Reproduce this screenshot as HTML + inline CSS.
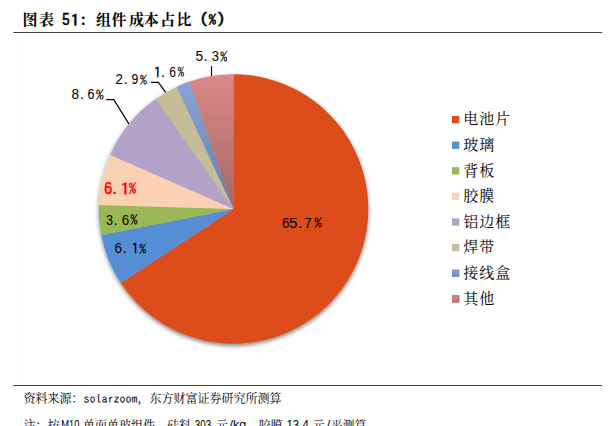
<!DOCTYPE html>
<html><head><meta charset="utf-8">
<style>
html,body{margin:0;padding:0;background:#fff;}
body{width:615px;height:426px;overflow:hidden;position:relative;}
svg{position:absolute;left:0;top:0;}
.tc{font-family:"Liberation Serif","Noto Serif CJK SC",serif;font-weight:bold;font-size:15px;fill:#000;}
.tl{font-family:"Liberation Sans",sans-serif;font-weight:bold;fill:#000;}
.lg{font-family:"Liberation Serif","Noto Serif CJK SC",serif;font-size:15px;letter-spacing:1px;fill:#000;}
.lb{font-family:"Liberation Sans",sans-serif;fill:#000;}
.lbr{font-family:"Liberation Sans",sans-serif;fill:#FF0000;font-weight:bold;}
.src{font-family:"Liberation Serif","Noto Serif CJK SC",serif;font-size:12px;fill:#000;}
.srcl{font-family:"IPAGothic","Liberation Mono",monospace;font-size:12px;fill:#000;}
.srcs{font-family:"Liberation Sans",sans-serif;font-size:12.5px;fill:#000;}
</style></head>
<body>
<svg width="615" height="426" viewBox="0 0 615 426">
<defs>
<linearGradient id="gP" gradientUnits="userSpaceOnUse" x1="0" y1="74" x2="0" y2="209"><stop offset="0" stop-color="#DB8989"/><stop offset="1" stop-color="#A36767"/></linearGradient>
<linearGradient id="gB" gradientUnits="userSpaceOnUse" x1="0" y1="82" x2="0" y2="209"><stop offset="0" stop-color="#89A4D6"/><stop offset="1" stop-color="#647EA5"/></linearGradient>
<linearGradient id="lP" x1="0" y1="0" x2="0" y2="1"><stop offset="0" stop-color="#D88585"/><stop offset="1" stop-color="#C07070"/></linearGradient>
<linearGradient id="lB" x1="0" y1="0" x2="0" y2="1"><stop offset="0" stop-color="#86A2D6"/><stop offset="1" stop-color="#7090C8"/></linearGradient>
<filter id="sh" x="-10%" y="-10%" width="120%" height="125%">
<feGaussianBlur in="SourceAlpha" stdDeviation="2.2"/>
<feOffset dx="0.0" dy="2.1" result="b"/>
<feComponentTransfer><feFuncA type="linear" slope="0.5"/></feComponentTransfer>
<feMerge><feMergeNode/><feMergeNode in="SourceGraphic"/></feMerge>
</filter>
</defs>
<text class="tc" x="22.4" y="24.7">图</text>
<text class="tc" x="39.1" y="24.7">表</text>
<text class="tc" x="96.1" y="24.7">组</text>
<text class="tc" x="111.6" y="24.7">件</text>
<text class="tc" x="128.9" y="24.7">成</text>
<text class="tc" x="143.75" y="24.7">本</text>
<text class="tc" x="160.2" y="24.7">占</text>
<text class="tc" x="176.6" y="24.7">比</text>
<text class="tc" x="79.15" y="24.7">：</text>
<text class="tl" style="font-size:15.0px;font-weight:normal;stroke:#000;stroke-width:0.55px" transform="translate(62.32,25.29) scale(0.886,1.061)">5</text>
<text class="tl" style="font-size:15.0px;font-family:IPAGothic,sans-serif;font-weight:normal;stroke:#000;stroke-width:0.5px" transform="translate(70.49,26.26) scale(1.215,1.057)">1</text>
<text class="tl" style="font-size:15.0px;font-weight:normal;stroke:#000;stroke-width:0.45px" transform="translate(200.80,23.03) scale(1.232,0.973)">(</text>
<text class="tl" style="font-size:15.0px;font-family:IPAGothic,sans-serif;font-weight:normal;stroke:#000;stroke-width:0.45px" transform="translate(208.56,24.11) scale(1.027,0.826)">%</text>
<text class="tl" style="font-size:15.0px;font-weight:normal;stroke:#000;stroke-width:0.45px" transform="translate(218.04,23.03) scale(1.232,0.973)">)</text>
<rect x="13.3" y="32" width="589" height="1" fill="#404040"/>
<rect x="21.5" y="35" width="1" height="348" fill="#fafafa"/>
<g filter="url(#sh)">
<path fill="#DD4E1F" d="M233.5,209.0 L233.50,74.20 A134.8,134.8 0 1 1 120.76,282.90 Z"/>
<path fill="#558ED5" d="M233.5,209.0 L120.76,282.90 A134.8,134.8 0 0 1 101.30,235.32 Z"/>
<path fill="#9AB855" d="M233.5,209.0 L101.30,235.32 A134.8,134.8 0 0 1 98.76,204.97 Z"/>
<path fill="#FAD2B3" d="M233.5,209.0 L98.76,204.97 A134.8,134.8 0 0 1 110.06,154.83 Z"/>
<path fill="#B3A2C7" d="M233.5,209.0 L110.06,154.83 A134.8,134.8 0 0 1 155.58,99.01 Z"/>
<path fill="#C4BD97" d="M233.5,209.0 L155.58,99.01 A134.8,134.8 0 0 1 176.82,86.70 Z"/>
<path fill="url(#gB)" d="M233.5,209.0 L176.82,86.70 A134.8,134.8 0 0 1 189.39,81.62 Z"/>
<path fill="url(#gP)" d="M233.5,209.0 L189.39,81.62 A134.8,134.8 0 0 1 233.50,74.20 Z"/>
</g>
<g stroke="#000" stroke-width="1.2" fill="none">
<path d="M211.5,66 L211.5,76" stroke-width="1.1"/>
<path d="M151.1,82.3 L158.4,82.3 L165.7,92.4"/>
<path d="M106.2,99.6 L113.8,99.6 L128.9,123.9"/>
</g>
<text class="lb" style="font-size:15.0px" transform="translate(195.40,61.30) scale(0.914,1.022)">5</text>
<text class="lb" style="font-size:15.5px" x="203.48" y="61.30">.</text>
<text class="lb" style="font-size:15.0px" transform="translate(211.85,61.30) scale(0.872,1.008)">3</text>
<text class="lb" style="font-size:15.0px;font-family:IPAGothic,sans-serif" transform="translate(219.97,60.64) scale(0.984,0.796)">%</text>
<text class="lb" style="font-size:15.0px;font-family:IPAGothic,sans-serif" transform="translate(153.14,77.90) scale(1.139,0.990)">1</text>
<text class="lb" style="font-size:15.5px" x="160.78" y="77.00">.</text>
<text class="lb" style="font-size:15.0px" transform="translate(169.33,77.01) scale(0.809,0.979)">6</text>
<text class="lb" style="font-size:15.0px;font-family:IPAGothic,sans-serif" transform="translate(177.49,76.36) scale(0.897,0.774)">%</text>
<text class="lb" style="font-size:15.0px" transform="translate(115.48,84.45) scale(0.893,0.983)">2</text>
<text class="lb" style="font-size:15.5px" x="123.48" y="84.30">.</text>
<text class="lb" style="font-size:15.0px" transform="translate(131.38,84.31) scale(0.808,0.970)">9</text>
<text class="lb" style="font-size:15.0px;font-family:IPAGothic,sans-serif" transform="translate(139.87,83.67) scale(0.984,0.766)">%</text>
<text class="lb" style="font-size:15.0px" transform="translate(71.46,99.21) scale(0.909,0.989)">8</text>
<text class="lb" style="font-size:15.5px" x="79.78" y="99.20">.</text>
<text class="lb" style="font-size:15.0px" transform="translate(87.41,99.21) scale(0.838,0.989)">6</text>
<text class="lb" style="font-size:15.0px;font-family:IPAGothic,sans-serif" transform="translate(95.84,98.55) scale(1.085,0.781)">%</text>
<text class="lbr" style="font-size:15.0px;font-weight:normal;stroke:#f00;stroke-width:0.6px" transform="translate(104.23,193.79) scale(0.939,1.073)">6</text>
<text class="lbr" style="font-size:15.5px" x="112.45" y="193.80">.</text>
<text class="lbr" style="font-size:15.0px;font-family:IPAGothic,sans-serif;font-weight:normal;stroke:#f00;stroke-width:0.4px" transform="translate(120.44,194.78) scale(1.248,1.085)">1</text>
<text class="lbr" style="font-size:15.0px;font-family:IPAGothic,sans-serif;font-weight:normal;stroke:#f00;stroke-width:0.35px" transform="translate(128.86,193.09) scale(0.998,0.848)">%</text>
<text class="lb" style="font-size:15.0px" transform="translate(105.97,224.60) scale(0.844,1.017)">3</text>
<text class="lb" style="font-size:15.5px" x="113.48" y="224.60">.</text>
<text class="lb" style="font-size:15.0px" transform="translate(121.67,224.60) scale(0.896,1.017)">6</text>
<text class="lb" style="font-size:15.0px;font-family:IPAGothic,sans-serif" transform="translate(130.26,223.93) scale(0.998,0.804)">%</text>
<text class="lb" style="font-size:15.0px" transform="translate(114.57,253.41) scale(0.896,0.979)">6</text>
<text class="lb" style="font-size:15.5px" x="122.48" y="253.40">.</text>
<text class="lb" style="font-size:15.0px;font-family:IPAGothic,sans-serif" transform="translate(130.94,254.30) scale(1.139,0.990)">1</text>
<text class="lb" style="font-size:15.0px;font-family:IPAGothic,sans-serif" transform="translate(139.28,252.76) scale(0.940,0.774)">%</text>
<text class="lb" style="font-size:15.0px" transform="translate(281.97,228.01) scale(0.896,0.989)">6</text>
<text class="lb" style="font-size:15.0px" transform="translate(288.94,228.00) scale(1.012,1.003)">5</text>
<text class="lb" style="font-size:15.5px" x="297.88" y="228.00">.</text>
<text class="lb" style="font-size:15.0px" transform="translate(304.25,228.15) scale(0.909,1.017)">7</text>
<text class="lb" style="font-size:15.0px;font-family:IPAGothic,sans-serif" transform="translate(314.04,227.35) scale(1.070,0.781)">%</text>
<rect x="452" y="116.0" width="7.3" height="7.3" fill="#DD4E1F"/>
<text class="lg" x="463.3" y="124.3">电池片</text>
<rect x="452" y="141.6" width="7.3" height="7.3" fill="#558ED5"/>
<text class="lg" x="463.3" y="149.9">玻璃</text>
<rect x="452" y="167.2" width="7.3" height="7.3" fill="#9AB855"/>
<text class="lg" x="463.3" y="175.5">背板</text>
<rect x="452" y="192.8" width="7.3" height="7.3" fill="#FAD2B3"/>
<text class="lg" x="463.3" y="201.1">胶膜</text>
<rect x="452" y="218.4" width="7.3" height="7.3" fill="#B3A2C7"/>
<text class="lg" x="463.3" y="226.7">铝边框</text>
<rect x="452" y="244.0" width="7.3" height="7.3" fill="#C4BD97"/>
<text class="lg" x="463.3" y="252.3">焊带</text>
<rect x="452.4" y="270.0" width="6.6" height="6.6" fill="url(#lB)" stroke="#6F88B8" stroke-width="0.8"/>
<text class="lg" x="463.3" y="277.9">接线盒</text>
<rect x="452.4" y="295.6" width="6.6" height="6.6" fill="url(#lP)" stroke="#B36A6A" stroke-width="0.8"/>
<text class="lg" x="463.3" y="303.5">其他</text>
<rect x="13.3" y="385" width="589" height="1" fill="#404040"/>
<text class="src" x="23.5" y="403.2">资料来源：</text>
<text class="srcl" x="83.5" y="403.2">solarzoom</text>
<text class="src" x="137.5" y="403.2">，东方财富证券研究所测算</text>
<text class="src" x="23.5" y="430.2">注：按</text>
<text class="srcs" x="61.3" y="429.2" textLength="18" lengthAdjust="spacingAndGlyphs">M10</text>
<text class="src" x="83" y="430.2">单面单玻组件，硅料</text>
<text class="srcs" x="194.8" y="429.2" textLength="16.5" lengthAdjust="spacingAndGlyphs">303</text>
<text class="src" x="216" y="430.2">元</text>
<text class="srcs" x="229.5" y="429.2" textLength="16.8" lengthAdjust="spacingAndGlyphs">/kg</text>
<text class="src" x="246.5" y="430.2">，胶膜</text>
<text class="srcs" x="286.5" y="429.2" textLength="22.3" lengthAdjust="spacingAndGlyphs">13.4</text>
<text class="src" x="312.5" y="430.2">元</text>
<text class="srcs" x="326.8" y="429.2">/</text>
<text class="src" x="330.5" y="430.2">平测算</text>
</svg>
</body></html>
